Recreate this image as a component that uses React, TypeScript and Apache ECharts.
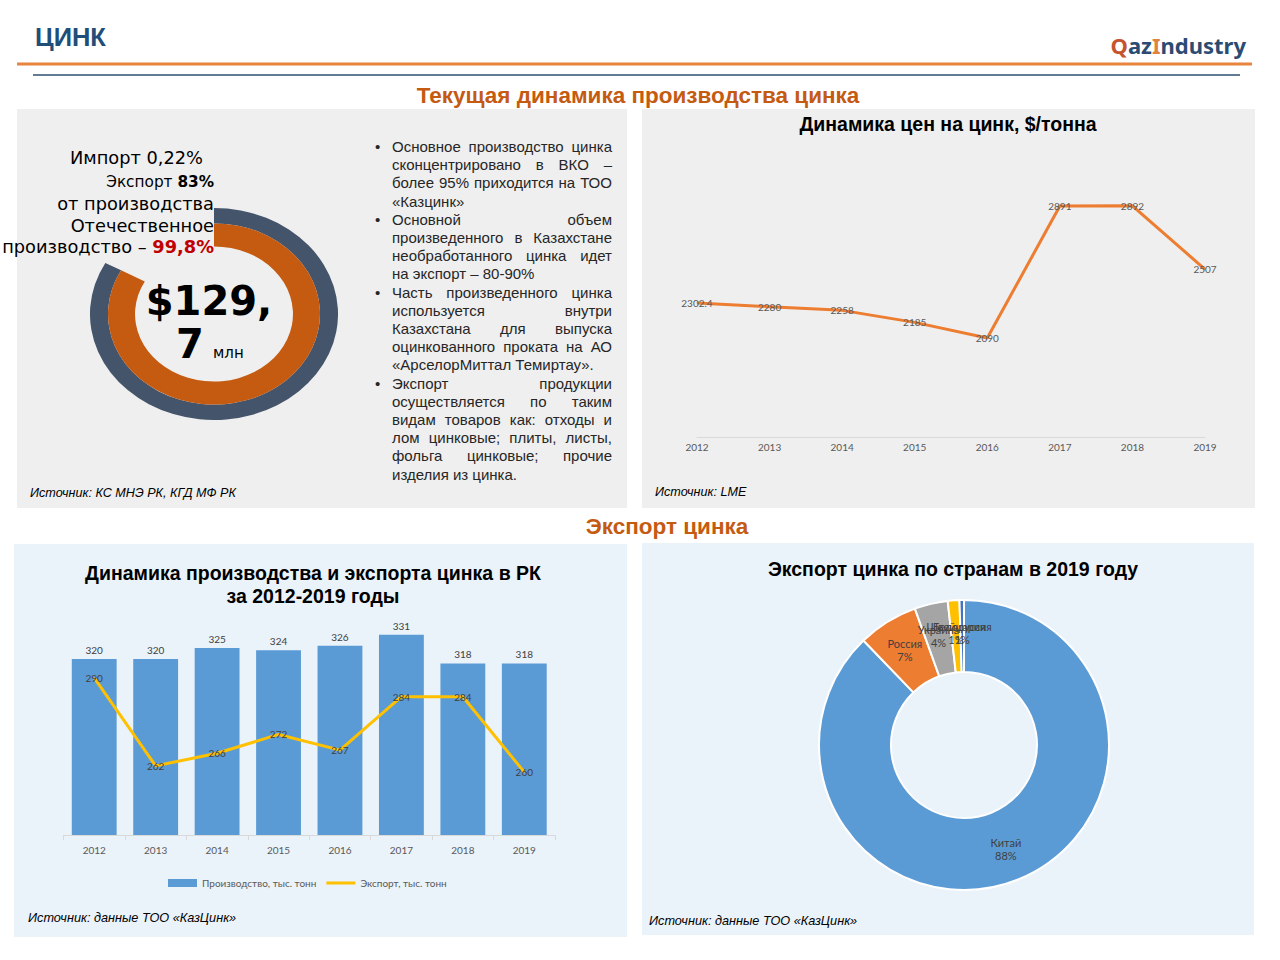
import React, { useEffect, useRef } from "react";
import * as echarts from "echarts";

// ---------- data ----------
const years = ["2012", "2013", "2014", "2015", "2016", "2017", "2018", "2019"];
const zincPrice = [2302.4, 2280, 2258, 2185, 2090, 2891, 2892, 2507];
const production = [320, 320, 325, 324, 326, 331, 318, 318];
const exportVolume = [290, 262, 266, 272, 267, 284, 284, 260];
const countryNames = ["Китай", "Россия", "Украина", "Швейцария", "Белоруссия"];
const countryShares = [87.8, 6.7, 3.7, 1.3, 0.5];
const countryColors = ["#5B9BD5", "#ED7D31", "#A5A5A5", "#FFC000", "#4472C4"];
const outerRingShare = 83; // экспорт от производства, %
const innerRingShare = 83; // отечественное производство (drawn arc), %

const bulletParagraphs: string[][] = [
  ["Основное производство цинка", "сконцентрировано в ВКО –", "более 95% приходится на ТОО", "«Казцинк»"],
  ["Основной объем", "произведенного в Казахстане", "необработанного цинка идет", "на экспорт – 80-90%"],
  ["Часть произведенного цинка", "используется внутри", "Казахстана для выпуска", "оцинкованного проката на АО", "«АрселорМиттал Темиртау»."],
  ["Экспорт продукции", "осуществляется по таким", "видам товаров как: отходы и", "лом цинковые; плиты, листы,", "фольга цинковые; прочие", "изделия из цинка."],
];

const SANS = "'Liberation Sans', Arial, sans-serif";
const DEJAVU = "'DejaVu Sans', sans-serif";
const LATO = "Lato, 'Liberation Sans', sans-serif";

function txt(x: number, y: number, text: string, o: any = {}) {
  return {
    type: "text",
    silent: true,
    z: 10,
    x,
    y,
    style: {
      text,
      fill: o.fill || "#000",
      fontSize: o.size || 12,
      fontFamily: o.family || SANS,
      fontWeight: o.weight || "normal",
      fontStyle: o.style || "normal",
      align: o.align || "left",
      verticalAlign: "middle",
      lineHeight: o.lineHeight,
      rich: o.rich,
    },
  };
}

function rect(x: number, y: number, w: number, h: number, fill: string) {
  return { type: "rect", silent: true, z: -10, shape: { x, y, width: w, height: h }, style: { fill } };
}

export default function App() {
  const mainRef = useRef<HTMLDivElement>(null);
  const ringRef = useRef<HTMLDivElement>(null);

  useEffect(() => {
    const chart = echarts.init(mainRef.current!, undefined, { renderer: "svg" });
    const ring = echarts.init(ringRef.current!, undefined, { renderer: "svg" });

    const logoFont = "'Noto Sans', sans-serif";
    const graphic: any[] = [
      rect(17, 109, 610, 399, "#EFEFEF"),
      rect(642, 109, 613, 399, "#EFEFEF"),
      rect(14, 544, 613, 393, "#EAF2FA"),
      rect(642, 543, 612, 392, "#EAF2FA"),
      { type: "line", silent: true, shape: { x1: 17, y1: 64, x2: 1252, y2: 64 }, style: { stroke: "#E8843E", lineWidth: 3 } },
      { type: "line", silent: true, shape: { x1: 33, y1: 75, x2: 1240, y2: 75 }, style: { stroke: "#2F5073", lineWidth: 1.5 } },
      txt(35, 37, "ЦИНК", { size: 25.5, weight: "bold", fill: "#1F4E79" }),
      txt(1246, 45, "{q|Q}{b|az}{o|I}{b|ndustry}", {
        align: "right",
        rich: {
          q: { fontSize: 22, fontWeight: "bold", fontFamily: logoFont, fill: "#C4552E" },
          b: { fontSize: 22, fontWeight: "bold", fontFamily: logoFont, fill: "#2B4B73" },
          o: { fontSize: 22, fontWeight: "bold", fontFamily: logoFont, fill: "#E2823F" },
        },
      }),
      txt(638, 95, "Текущая динамика производства цинка", { size: 22.5, weight: "bold", fill: "#C55A11", align: "center" }),
      txt(667, 526, "Экспорт цинка", { size: 22.5, weight: "bold", fill: "#C55A11", align: "center" }),
      // top-left ring texts
      txt(203, 157, "Импорт 0,22%", { size: 17.8, family: DEJAVU, align: "right" }),
      txt(214, 182, "{a|Экспорт }{b|83%}", {
        align: "right",
        rich: {
          a: { fontSize: 15.3, fontFamily: DEJAVU, fill: "#000" },
          b: { fontSize: 15.3, fontFamily: DEJAVU, fontWeight: "bold", fill: "#000" },
        },
      }),
      txt(214, 203, "от производства", { size: 17.8, family: DEJAVU, align: "right" }),
      txt(214, 225, "Отечественное", { size: 17.8, family: DEJAVU, align: "right" }),
      txt(214, 246, "{a|производство – }{b|99,8%}", {
        align: "right",
        rich: {
          a: { fontSize: 17.8, fontFamily: DEJAVU, fill: "#000" },
          b: { fontSize: 17.8, fontFamily: DEJAVU, fontWeight: "bold", fill: "#C00000" },
        },
      }),
      txt(209, 301, "$129,", { size: 40, family: DEJAVU, weight: "bold", align: "center", lineHeight: 36 }),
      txt(190, 344, "7", { size: 40, family: DEJAVU, weight: "bold", align: "center", lineHeight: 36 }),
      txt(213, 353, "млн", { size: 15, family: DEJAVU }),
      txt(30, 493, "Источник: КС МНЭ РК, КГД МФ РК", { size: 12.6, style: "italic" }),
      // top-right
      txt(948, 124, "Динамика цен на цинк, $/тонна", { size: 19.5, weight: "bold", align: "center" }),
      txt(655, 492, "Источник: LME", { size: 12.6, style: "italic" }),
      // bottom-left
      txt(313, 573, "Динамика производства и экспорта цинка в РК", { size: 19.5, weight: "bold", align: "center" }),
      txt(313, 596, "за 2012-2019 годы", { size: 19.5, weight: "bold", align: "center" }),
      txt(28, 918, "Источник: данные ТОО «КазЦинк»", { size: 12.7, style: "italic" }),
      // bottom-right
      txt(953, 569, "Экспорт цинка по странам в 2019 году", { size: 19.5, weight: "bold", align: "center" }),
      txt(649, 921, "Источник: данные ТОО «КазЦинк»", { size: 12.7, style: "italic" }),
    ];

    chart.setOption({
      animation: false,
      graphic,
      legend: {
        left: 163,
        top: 873,
        itemWidth: 29,
        itemHeight: 8,
        itemGap: 10,
        textStyle: { fontSize: 10, color: "#595959", fontFamily: LATO },
        data: [
          { name: "Производство, тыс. тонн", icon: "rect" },
          { name: "Экспорт, тыс. тонн", icon: "path://M0,0H29V3H0Z" },
        ],
      },
      grid: [
        { left: 697, right: 75, top: 188, bottom: 523 },
        { left: 63.5, right: 725, top: 615, bottom: 125 },
      ],
      xAxis: [
        {
          type: "category",
          gridIndex: 0,
          data: years,
          boundaryGap: false,
          axisLine: { lineStyle: { color: "#D9D9D9" } },
          axisTick: { show: false },
          axisLabel: { color: "#595959", fontSize: 10, fontFamily: LATO, margin: 5 },
        },
        {
          type: "category",
          gridIndex: 1,
          data: years,
          axisLine: { lineStyle: { color: "#D9D9D9" } },
          axisTick: { show: true, length: 5, lineStyle: { color: "#D9D9D9" } },
          axisLabel: { color: "#595959", fontSize: 10, fontFamily: LATO, margin: 10 },
        },
      ],
      yAxis: [
        { type: "value", gridIndex: 0, min: 1490, max: 3000, show: false },
        { type: "value", gridIndex: 1, min: 240, max: 340, show: false },
        { type: "value", gridIndex: 1, min: 240, max: 310, show: false },
      ],
      series: [
        {
          type: "line",
          name: "Цена",
          xAxisIndex: 0,
          yAxisIndex: 0,
          data: zincPrice,
          symbol: "circle",
          symbolSize: 1,
          itemStyle: { color: "#ED7D31" },
          lineStyle: { color: "#ED7D31", width: 3 },
          label: { show: true, position: "inside", color: "#595959", fontSize: 10, fontFamily: LATO },
        },
        {
          type: "bar",
          name: "Производство, тыс. тонн",
          xAxisIndex: 1,
          yAxisIndex: 1,
          data: production,
          barCategoryGap: "27%",
          itemStyle: { color: "#5B9BD5" },
          label: { show: true, position: "top", distance: 4, color: "#404040", fontSize: 10, fontFamily: LATO },
        },
        {
          type: "line",
          name: "Экспорт, тыс. тонн",
          xAxisIndex: 1,
          yAxisIndex: 2,
          data: exportVolume,
          symbol: "circle",
          symbolSize: 1,
          itemStyle: { color: "#FFC000" },
          lineStyle: { color: "#FFC000", width: 3 },
          label: { show: true, position: "inside", color: "#404040", fontSize: 10, fontFamily: LATO },
          z: 3,
        },
        {
          type: "pie",
          name: "Страны",
          center: [964, 745],
          radius: [73, 145],
          startAngle: 90,
          clockwise: true,
          avoidLabelOverlap: false,
          minShowLabelAngle: 0,
          labelLayout: { hideOverlap: false },
          data: countryNames.map((n, i) => ({ name: n, value: countryShares[i], itemStyle: { color: countryColors[i] } })),
          itemStyle: { borderColor: "#FFFFFF", borderWidth: 2 },
          label: {
            show: true,
            position: "inside",
            color: "#404040",
            fontSize: 11,
            lineHeight: 13,
            fontFamily: LATO,
            formatter: (p: any) => `${p.name}\n${Math.round(p.percent)}%`,
          },
          labelLine: { show: false },
          emphasis: { disabled: true },
        },
      ],
    });

    ring.setOption({
      animation: false,
      series: [
        {
          type: "pie",
          center: ["50%", "50%"],
          radius: [90.6, 106],
          startAngle: 90,
          clockwise: true,
          silent: true,
          label: { show: false },
          data: [
            { name: "Экспорт", value: outerRingShare, itemStyle: { color: "#44546A" } },
            { name: "rest", value: 100 - outerRingShare, itemStyle: { color: "rgba(0,0,0,0)" } },
          ],
        },
        {
          type: "pie",
          center: ["50%", "50%"],
          radius: [67.5, 90.6],
          startAngle: 90,
          clockwise: true,
          silent: true,
          label: { show: false },
          data: [
            { name: "Отечественное производство", value: innerRingShare, itemStyle: { color: "#C55A11" } },
            { name: "rest", value: 100 - innerRingShare, itemStyle: { color: "rgba(0,0,0,0)" } },
          ],
        },
      ],
    });

    return () => {
      chart.dispose();
      ring.dispose();
    };
  }, []);

  return (
    <div style={{ position: "absolute", left: 0, top: 0, width: 1280, height: 960, background: "#fff", overflow: "hidden" }}>
      <div ref={mainRef} style={{ position: "absolute", left: 0, top: 0, width: 1280, height: 960 }} />
      <div
        ref={ringRef}
        style={{
          position: "absolute",
          left: 108,
          top: 208,
          width: 212,
          height: 212,
          transform: "scaleX(1.17)",
          transformOrigin: "50% 50%",
          pointerEvents: "none",
        }}
      />
      <div
        style={{
          position: "absolute",
          left: 375,
          top: 138,
          width: 237,
          fontFamily: SANS,
          fontSize: 15,
          lineHeight: "18.2px",
          color: "#262626",
        }}
      >
        {bulletParagraphs.map((lines, i) => (
          <div key={i} style={{ position: "relative", paddingLeft: 17 }}>
            <span style={{ position: "absolute", left: 0, top: 0 }}>•</span>
            {lines.map((l, j) =>
              j === lines.length - 1 ? (
                <div key={j} style={{ whiteSpace: "nowrap" }}>{l}</div>
              ) : (
                <div key={j} style={{ display: "flex", justifyContent: "space-between", whiteSpace: "nowrap" }}>
                  {l.split(" ").map((w, k) => (
                    <span key={k}>{w}</span>
                  ))}
                </div>
              )
            )}
          </div>
        ))}
      </div>
    </div>
  );
}
